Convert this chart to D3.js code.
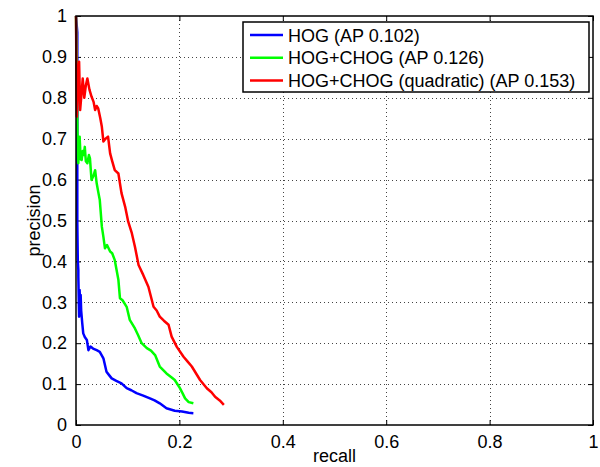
<!DOCTYPE html>
<html><head><meta charset="utf-8">
<script src="https://cdn.jsdelivr.net/npm/d3@7"></script>
<style>body{margin:0;background:#fff}svg{display:block}text{font-family:"Liberation Sans",Arial,Helvetica,sans-serif}</style>
</head><body><svg id="c" width="600" height="467"></svg>
<script>
const seriesNames = ["HOG (AP 0.102)", "HOG+CHOG (AP 0.126)", "HOG+CHOG (quadratic) (AP 0.153)"];
const seriesColors = ["#0000ff", "#00ff00", "#ff0000"];
const xTicks = [0, 0.2, 0.4, 0.6, 0.8, 1];
const yTicks = [0, 0.1, 0.2, 0.3, 0.4, 0.5, 0.6, 0.7, 0.8, 0.9, 1];

const hogRecall = [0, 0.0025, 0.0025, 0.0025, 0.0035, 0.0045, 0.0045, 0.006, 0.007, 0.008, 0.009, 0.010, 0.011, 0.012, 0.014, 0.017, 0.021, 0.024, 0.028, 0.033, 0.040, 0.046, 0.053, 0.059, 0.064, 0.069, 0.078, 0.088, 0.098, 0.107, 0.117, 0.130, 0.143, 0.152, 0.162, 0.175, 0.191, 0.205, 0.218, 0.227];
const hogPrec   = [1, 0.96, 0.570, 0.497, 0.40, 0.379, 0.363, 0.265, 0.33, 0.29, 0.318, 0.28, 0.265, 0.25, 0.224, 0.215, 0.208, 0.183, 0.192, 0.187, 0.183, 0.179, 0.163, 0.130, 0.122, 0.114, 0.108, 0.102, 0.090, 0.085, 0.078, 0.072, 0.065, 0.060, 0.053, 0.041, 0.035, 0.033, 0.030, 0.029];

const chogRecall = [0, 0.0025, 0.0035, 0.0045, 0.006, 0.007, 0.009, 0.011, 0.013, 0.015, 0.017, 0.019, 0.022, 0.025, 0.027, 0.030, 0.034, 0.037, 0.040, 0.043, 0.046, 0.050, 0.053, 0.056, 0.060, 0.066, 0.070, 0.075, 0.082, 0.085, 0.090, 0.098, 0.104, 0.114, 0.120, 0.127, 0.137, 0.145, 0.153, 0.162, 0.175, 0.185, 0.191, 0.201, 0.206, 0.211, 0.218, 0.227];
const chogPrec   = [1, 0.75, 0.66, 0.64, 0.69, 0.705, 0.65, 0.648, 0.67, 0.66, 0.68, 0.645, 0.64, 0.66, 0.652, 0.599, 0.61, 0.623, 0.591, 0.570, 0.550, 0.485, 0.46, 0.432, 0.44, 0.424, 0.42, 0.403, 0.355, 0.310, 0.305, 0.289, 0.257, 0.236, 0.22, 0.200, 0.188, 0.182, 0.171, 0.143, 0.126, 0.116, 0.110, 0.090, 0.078, 0.065, 0.056, 0.053];

const quadRecall = [0, 0.0015, 0.003, 0.004, 0.006, 0.008, 0.010, 0.013, 0.016, 0.019, 0.022, 0.026, 0.030, 0.034, 0.037, 0.040, 0.043, 0.047, 0.050, 0.053, 0.057, 0.062, 0.066, 0.070, 0.075, 0.082, 0.088, 0.095, 0.101, 0.108, 0.114, 0.121, 0.130, 0.140, 0.150, 0.156, 0.162, 0.170, 0.179, 0.185, 0.195, 0.208, 0.216, 0.224, 0.240, 0.253, 0.262, 0.269, 0.278, 0.286];
const quadPrec   = [1, 0.754, 0.80, 0.86, 0.888, 0.77, 0.80, 0.847, 0.80, 0.83, 0.847, 0.82, 0.803, 0.79, 0.770, 0.78, 0.774, 0.75, 0.729, 0.693, 0.70, 0.705, 0.664, 0.645, 0.623, 0.615, 0.567, 0.534, 0.497, 0.469, 0.436, 0.391, 0.367, 0.338, 0.289, 0.280, 0.265, 0.255, 0.245, 0.216, 0.191, 0.167, 0.155, 0.143, 0.110, 0.090, 0.080, 0.069, 0.060, 0.049];

const svg = d3.select("#c");
const L = 76, R = 593, T = 16, B = 425;
const x = d3.scaleLinear().domain([0, 1]).range([L, R]);
const y = d3.scaleLinear().domain([0, 1]).range([B, T]);

// grid
const grid = svg.append("g").attr("stroke", "#444").attr("stroke-width", 1).attr("stroke-dasharray", "1,3");
xTicks.slice(1, -1).forEach(t => grid.append("line").attr("x1", Math.round(x(t)) + 0.5).attr("x2", Math.round(x(t)) + 0.5).attr("y1", T).attr("y2", B));
yTicks.slice(1, -1).forEach(t => grid.append("line").attr("y1", Math.round(y(t)) + 0.5).attr("y2", Math.round(y(t)) + 0.5).attr("x1", L).attr("x2", R));

// axes with inward ticks
const fs = 18;
const xAxisB = d3.axisBottom(x).tickValues(xTicks).tickSizeInner(-5).tickSizeOuter(0).tickPadding(10).tickFormat(d => d3.format("")(d));
const gx = svg.append("g").attr("transform", `translate(0,${B})`).call(xAxisB);
gx.select(".domain").remove();
gx.selectAll("text").attr("font-size", fs).attr("fill", "#000").attr("font-family", "Liberation Sans, Arial, sans-serif");
const gxT = svg.append("g").attr("transform", `translate(0,${T})`).call(d3.axisTop(x).tickValues(xTicks).tickSizeInner(-5).tickSizeOuter(0).tickFormat(""));
gxT.select(".domain").remove();
const yAxisL = d3.axisLeft(y).tickValues(yTicks).tickSizeInner(-5).tickSizeOuter(0).tickPadding(9).tickFormat(d => d3.format("")(d));
const gy = svg.append("g").attr("transform", `translate(${L},0)`).call(yAxisL);
gy.select(".domain").remove();
gy.selectAll("text").attr("font-size", fs).attr("fill", "#000").attr("font-family", "Liberation Sans, Arial, sans-serif");
const gyR = svg.append("g").attr("transform", `translate(${R},0)`).call(d3.axisRight(y).tickValues(yTicks).tickSizeInner(-5).tickSizeOuter(0).tickFormat(""));
gyR.select(".domain").remove();
svg.selectAll(".tick line").attr("stroke", "#000");

// curves
const recalls = [hogRecall, chogRecall, quadRecall];
const precs = [hogPrec, chogPrec, quadPrec];
const line = d3.line().x(d => x(d[0])).y(d => y(d[1]));
recalls.forEach((r, i) => {
  const pts = r.map((v, j) => [v, precs[i][j]]);
  svg.append("path").datum(pts).attr("d", line).attr("fill", "none")
    .attr("stroke", seriesColors[i]).attr("stroke-width", 2.5).attr("stroke-linejoin", "round");
});

// box
svg.append("rect").attr("x", L).attr("y", T).attr("width", R - L).attr("height", B - T)
  .attr("fill", "none").attr("stroke", "#000").attr("stroke-width", 1.5);

// axis labels
svg.append("text").attr("x", (L + R) / 2).attr("y", 462).attr("text-anchor", "middle").attr("font-size", fs).text("recall");
svg.append("text").attr("transform", `translate(40,${(T + B) / 2}) rotate(-90)`).attr("text-anchor", "middle").attr("font-size", fs).text("precision");

// legend
const lg = svg.append("g");
lg.append("rect").attr("x", 243).attr("y", 22).attr("width", 346).attr("height", 70)
  .attr("fill", "#fff").attr("stroke", "#000").attr("stroke-width", 1.5);
seriesNames.forEach((n, i) => {
  const yy = 35 + i * 22.7;
  lg.append("line").attr("x1", 250).attr("x2", 283).attr("y1", yy).attr("y2", yy)
    .attr("stroke", seriesColors[i]).attr("stroke-width", 2.5);
  lg.append("text").attr("x", 288).attr("y", yy + 6.5).attr("font-size", fs).text(n);
});
</script></body></html>
